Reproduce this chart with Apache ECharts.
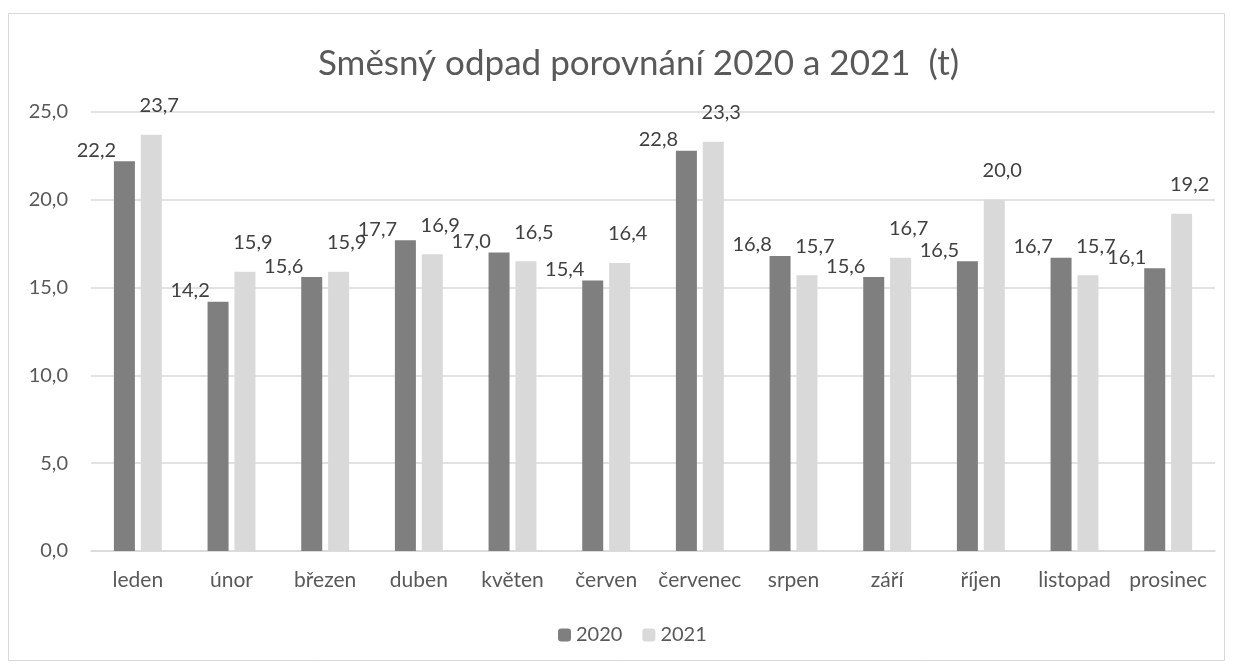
<!DOCTYPE html>
<html>
<head>
<meta charset="utf-8">
<script src="https://cdn.jsdelivr.net/npm/echarts@6/dist/echarts.min.js"></script>
<style>
html, body { margin: 0; padding: 0; background: #fff; }
#main { width: 1233px; height: 668px; }
</style>
</head>
<body>
<div id="main"></div>
<script>
var months = ['leden', 'únor', 'březen', 'duben', 'květen', 'červen', 'červenec', 'srpen', 'září', 'říjen', 'listopad', 'prosinec'];
var data2020 = [22.2, 14.2, 15.6, 17.7, 17.0, 15.4, 22.8, 16.8, 15.6, 16.5, 16.7, 16.1];
var data2021 = [23.7, 15.9, 15.9, 16.9, 16.5, 16.4, 23.3, 15.7, 16.7, 20.0, 15.7, 19.2];

var fmt = function (v) {
    return v.toFixed(1).replace('.', ',');
};

var chart = echarts.init(document.getElementById('main'));
var option = {
    textStyle: { fontFamily: 'Lato' },
    title: {
        text: 'Směsný odpad porovnání 2020 a 2021  (t)',
        left: 313,
        top: 41,
        textStyle: { fontSize: 35, fontWeight: 'normal', color: '#595959', fontFamily: 'Lato' }
    },
    legend: {
        data: ['2020', '2021'],
        bottom: 18,
        left: 553,
        itemWidth: 13,
        itemHeight: 13,
        itemGap: 20,
        textStyle: { fontSize: 20, color: '#595959' }
    },
    grid: { left: 91, right: 18, top: 112, bottom: 117 },
    xAxis: {
        type: 'category',
        data: months,
        axisLine: { lineStyle: { color: '#d9d9d9', width: 1.5 } },
        axisTick: { show: false },
        axisLabel: { fontSize: 21, color: '#595959', margin: 19, interval: 0 }
    },
    yAxis: {
        type: 'value',
        min: 0,
        max: 25,
        interval: 5,
        axisLine: { show: false },
        axisTick: { show: false },
        splitLine: { lineStyle: { color: '#d9d9d9', width: 1.5 } },
        axisLabel: {
            fontSize: 20, color: '#595959', margin: 23,
            formatter: function (v) { return fmt(v); }
        }
    },
    series: [
        {
            name: '2020',
            type: 'bar',
            data: data2020,
            barWidth: 21,
            barGap: '28%',
            itemStyle: { color: '#7f7f7f' },
            label: {
                show: true,
                position: 'top',
                offset: [-28, 4],
                fontSize: 20,
                color: '#404040',
                formatter: function (p) { return fmt(p.value); }
            }
        },
        {
            name: '2021',
            type: 'bar',
            data: data2021,
            barWidth: 21,
            itemStyle: { color: '#d9d9d9' },
            label: {
                show: true,
                position: 'top',
                offset: [8, -14],
                fontSize: 20,
                color: '#404040',
                formatter: function (p) { return fmt(p.value); }
            }
        }
    ],
    graphic: [{
        type: 'rect',
        shape: { x: 8.5, y: 13.5, width: 1216, height: 647 },
        style: { fill: 'none', stroke: '#d9d9d9', lineWidth: 1 },
        silent: true
    }]
};
chart.setOption(option);
</script>
</body>
</html>
